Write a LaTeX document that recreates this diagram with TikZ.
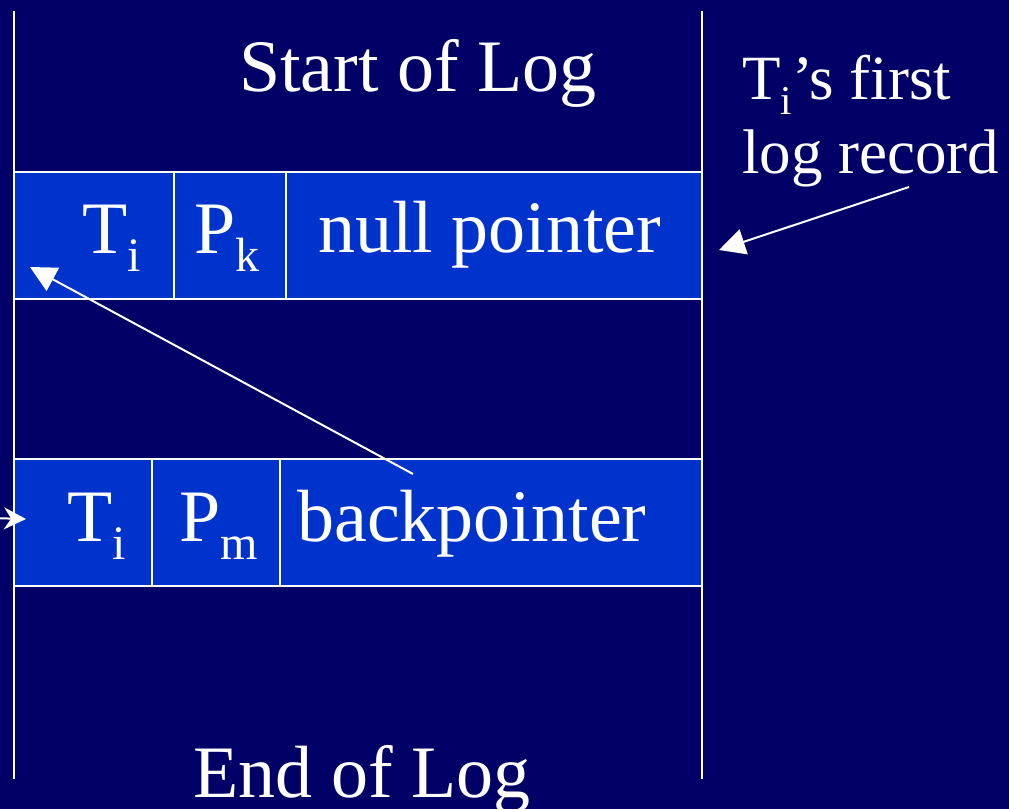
\documentclass[tikz,border=0pt]{standalone}
\usepackage{fontspec}
\usepackage{graphicx}
\setmainfont{Liberation Serif}
\usetikzlibrary{arrows.meta}
\definecolor{logbg}{RGB}{0,0,102}
\definecolor{recblue}{RGB}{0,51,204}
\newcommand\idx[1]{\raisebox{-.25em}{\scalebox{.65}{#1}}}
\begin{document}
\begin{tikzpicture}[x=1pt, y=-1pt,
  cell/.style={draw=white, line width=2pt, fill=recblue, inner sep=0pt, outer sep=0pt, anchor=north west},
  big/.style={text=white, inner sep=0pt, font=\fontsize{74}{80}\selectfont},
  note/.style={text=white, inner sep=0pt, anchor=base west, font=\fontsize{63}{74}\selectfont},
  ptr/.style={draw=white, line width=2pt, -{Triangle[length=26pt, width=26pt]}}]
\fill[logbg] (0,0) rectangle (1009,809);
\useasboundingbox (0,0) rectangle (1009,809);
% first record of T_i
\node[cell, minimum width=160pt, minimum height=127pt] (rec1a) at (14,172){};
\node[cell, minimum width=112pt, minimum height=127pt] (rec1b) at (174,172){};
\node[cell, minimum width=416pt, minimum height=127pt] (rec1c) at (286,172){};
% later record
\node[cell, minimum width=138pt, minimum height=127pt] (rec2a) at (14,459){};
\node[cell, minimum width=128pt, minimum height=127pt] (rec2b) at (152,459){};
\node[cell, minimum width=422pt, minimum height=127pt] (rec2c) at (280,459){};
% log boundaries
\coordinate (lt) at (14,11);
\coordinate (lb) at (14,779);
\coordinate (rt) at (702,11);
\coordinate (rb) at (702,779);
\draw[white, line width=2pt](lt) -- (lb);
\draw[white, line width=2pt](rt) -- (rb);
\node[big, anchor=base] (start) at (418,91){Start of Log};
\node[big, anchor=base] (end) at (362,797){End of Log};
\node[big, anchor=base west] (t1) at (82,253){T\idx{i}};
\node[big, anchor=base west] (p1) at (194,253){P\idx{k}};
\node[big, anchor=base west] (null) at (318,252){null pointer};
\node[big, anchor=base west] (t2) at (67,541){T\idx{i}};
\node[big, anchor=base west] (p2) at (179,541){P\idx{m}};
\node[big, anchor=base west] (back) at (297,541){backpointer};
\node[note] (first) at (742,99){T\idx{i}’s first};
\node[note] (record) at (742,173){log record};
% pointers
\coordinate (bpfrom) at (413,474);
\coordinate (bpto) at (30,267);
\coordinate (nfrom) at (909,187);
\coordinate (nto) at (719,250);
\coordinate (infrom) at (-10,518);
\coordinate (into) at (26,519);
\draw[ptr](bpfrom) -- (bpto);
\draw[ptr](nfrom) -- (nto);
\draw[draw=white, line width=2pt, -{Stealth[length=22pt, width=22pt]}](infrom) -- (into);
\end{tikzpicture}
\end{document}
